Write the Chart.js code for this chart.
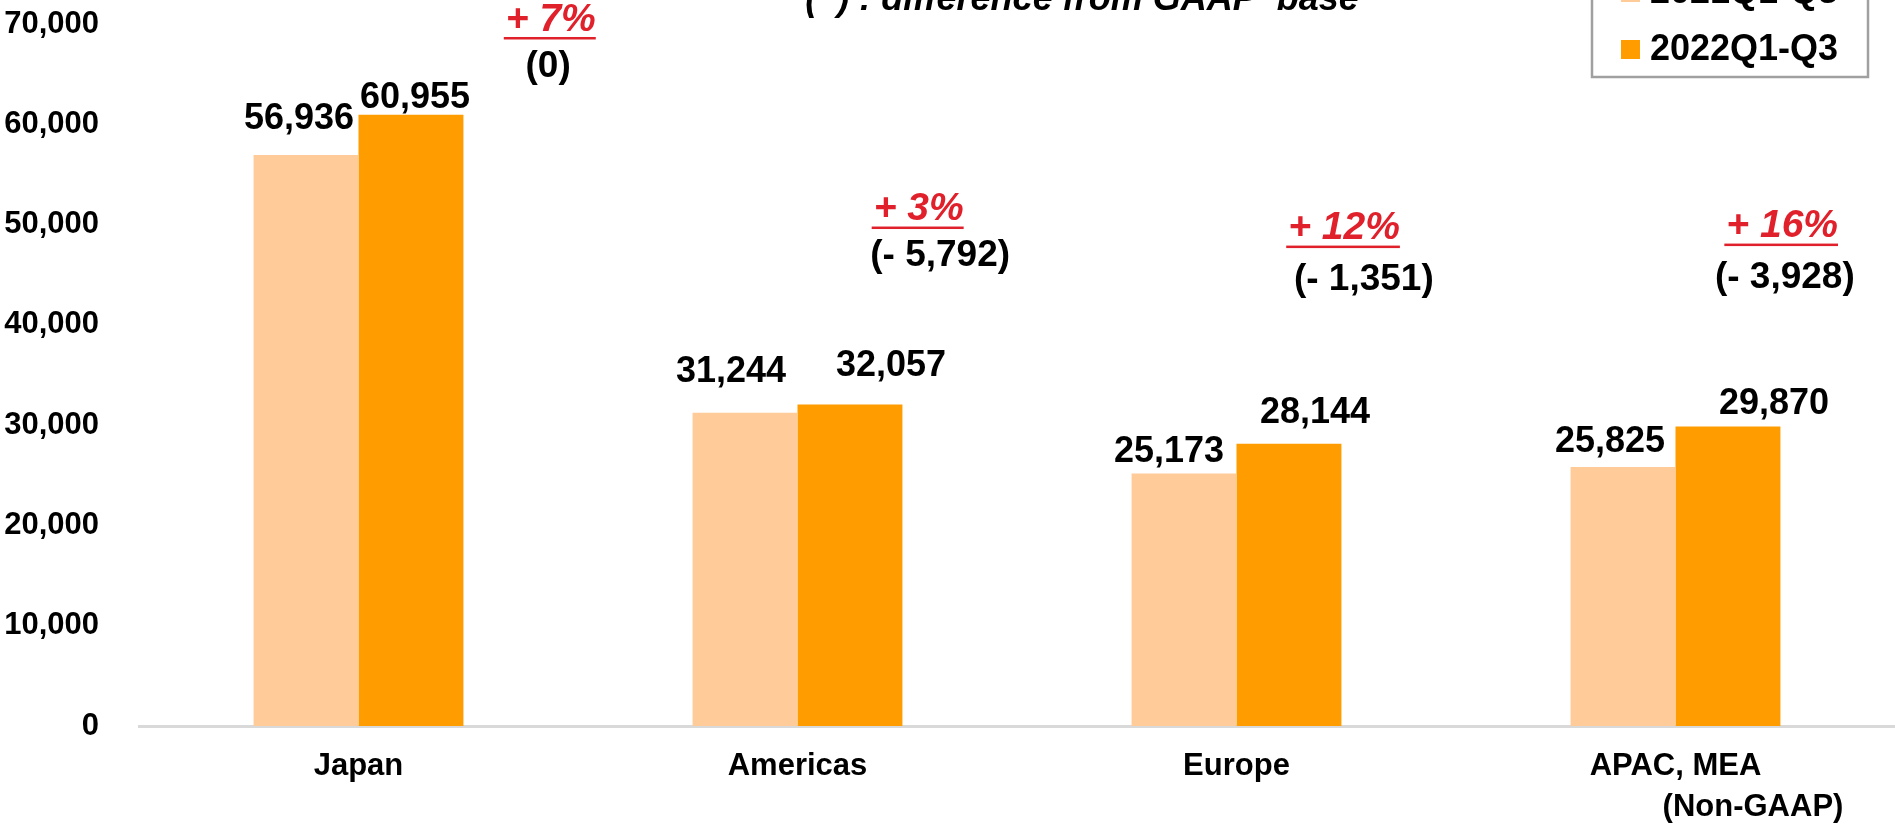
<!DOCTYPE html>
<html>
<head>
<meta charset="utf-8">
<script src="https://cdn.jsdelivr.net/npm/chart.js@4/dist/chart.umd.min.js"></script>
<style>
  html, body { margin: 0; padding: 0; background: #fff; }
  #wrap { width: 1895px; height: 826px; position: relative; }
</style>
</head>
<body>
<div id="wrap"><canvas id="salesChart"></canvas></div>
<script>
// Datos
const regions = ['Japan', 'Americas', 'Europe', 'APAC, MEA'];
const sales2021 = [56936, 31244, 25173, 25825];
const sales2022 = [60955, 32057, 28144, 29870];
const growthText = ['+ 7%', '+ 3%', '+ 12%', '+ 16%'];
const gaapDiffText = ['(0)', '(- 5,792)', '(- 1,351)', '(- 3,928)'];
const seriesNames = ['2021Q1-Q3', '2022Q1-Q3'];
const yMax = 70000;
const yStep = 10000;

// Colores y posiciones de etiquetas (layout, no datos)
const colorLight = '#FFCB99';
const colorDark = '#FF9C00';
const redText = '#E0202A';
const FONT = '"Liberation Sans", Arial, sans-serif';

// desplazamiento de las etiquetas de valor (px, respecto al tope de la barra)
const labelDx = [[-7, -14, -15, -13], [4, 41, 26, 46]];
const labelDy = [[-36, -41, -21, -25], [-17, -38, -31, -22]];

// anotaciones: x en fracción de categoría, y en unidades del eje
const growthPos = [[0.438, 70400], [0.276, 51500], [0.245, 49600], [0.243, 49800]];
const diffPos = [[0.432, 65730], [0.325, 46900], [0.29, 44450], [0.249, 44700]];

const annotationsPlugin = {
    id: 'annotations',
    afterDraw(chart) {
        const ctx = chart.ctx;
        const xs = chart.scales.x;
        const ys = chart.scales.y;
        const catW = xs.getPixelForValue(1) - xs.getPixelForValue(0);
        ctx.save();

        // etiquetas de valor sobre las barras
        ctx.font = 'bold 36px ' + FONT;
        ctx.fillStyle = '#000';
        ctx.textAlign = 'center';
        ctx.textBaseline = 'middle';
        chart.data.datasets.forEach((ds, di) => {
            const meta = chart.getDatasetMeta(di);
            meta.data.forEach((bar, i) => {
                const txt = ds.data[i].toLocaleString('en-US');
                ctx.fillText(txt, bar.x + labelDx[di][i], bar.y + labelDy[di][i]);
            });
        });

        // crecimiento (rojo, subrayado) y diferencia GAAP
        regions.forEach((r, i) => {
            const cx = xs.getPixelForValue(i);
            const gx = cx + growthPos[i][0] * catW;
            const gy = ys.getPixelForValue(growthPos[i][1]);
            ctx.font = 'italic bold 39px ' + FONT;
            ctx.fillStyle = redText;
            ctx.textBaseline = 'middle';
            ctx.fillText(growthText[i], gx, gy);
            const w = ctx.measureText(growthText[i]).width;
            ctx.fillRect(gx - w / 2 - 2, gy + 17, w + 2, 2.5);

            const dx = cx + diffPos[i][0] * catW;
            const dy = ys.getPixelForValue(diffPos[i][1]);
            ctx.font = 'bold 37px ' + FONT;
            ctx.fillStyle = '#000';
            ctx.fillText(gaapDiffText[i], dx, dy);
        });

        // nota bajo APAC
        ctx.font = 'bold 31px ' + FONT;
        ctx.fillText('(Non-GAAP)', xs.getPixelForValue(3) + 0.1765 * catW, 807);

        // titulo cortado arriba
        ctx.font = 'italic bold 36px ' + FONT;
        ctx.textBaseline = 'alphabetic';
        ctx.fillText('(  ) : difference from GAAP  base', 1082, 10);

        // leyenda
        ctx.fillStyle = '#fff';
        ctx.strokeStyle = '#a0a0a0';
        ctx.lineWidth = 2.5;
        ctx.fillRect(1592, -60, 276, 137);
        ctx.strokeRect(1592, -60, 276, 137);
        ctx.textAlign = 'left';
        ctx.textBaseline = 'middle';
        chart.data.datasets.forEach((ds, di) => {
            const rowY = -8 + di * 57;
            ctx.fillStyle = ds.backgroundColor;
            ctx.fillRect(1621, rowY - 9, 19, 19);
            ctx.fillStyle = '#000';
            ctx.font = 'bold 36px ' + FONT;
            ctx.fillText(ds.label, 1650, rowY + 1);
        });
        ctx.restore();
    }
};

new Chart(document.getElementById('salesChart'), {
    type: 'bar',
    data: {
        labels: regions,
        datasets: [
            { label: seriesNames[0], data: sales2021, backgroundColor: colorLight },
            { label: seriesNames[1], data: sales2022, backgroundColor: colorDark }
        ]
    },
    options: {
        responsive: true,
        maintainAspectRatio: false,
        animation: false,
        devicePixelRatio: 1,
        layout: { padding: { top: 24, left: 0, right: 0, bottom: 0 } },
        datasets: { bar: { categoryPercentage: 0.478, barPercentage: 1.0 } },
        plugins: {
            legend: { display: false },
            title: { display: false },
            tooltip: { enabled: false }
        },
        scales: {
            x: {
                grid: { display: false, drawTicks: false },
                border: { display: true, color: '#d9d9d9', width: 3 },
                ticks: {
                    color: '#000',
                    font: { family: FONT, size: 31, weight: 'bold' },
                    padding: 22,
                    maxRotation: 0
                },
                afterFit(scale) {
                    scale.height = 100;
                    scale.paddingLeft = 0;
                    scale.paddingRight = 0;
                }
            },
            y: {
                min: 0,
                max: yMax,
                grid: { display: false, drawTicks: false },
                border: { display: false },
                ticks: {
                    stepSize: yStep,
                    color: '#000',
                    font: { family: FONT, size: 31, weight: 'bold' },
                    padding: 40,
                    callback: v => v.toLocaleString('en-US')
                },
                afterFit(scale) {
                    scale.width = 139;
                    scale.paddingTop = 0;
                    scale.paddingBottom = 0;
                }
            }
        }
    },
    plugins: [annotationsPlugin]
});
</script>
</body>
</html>
